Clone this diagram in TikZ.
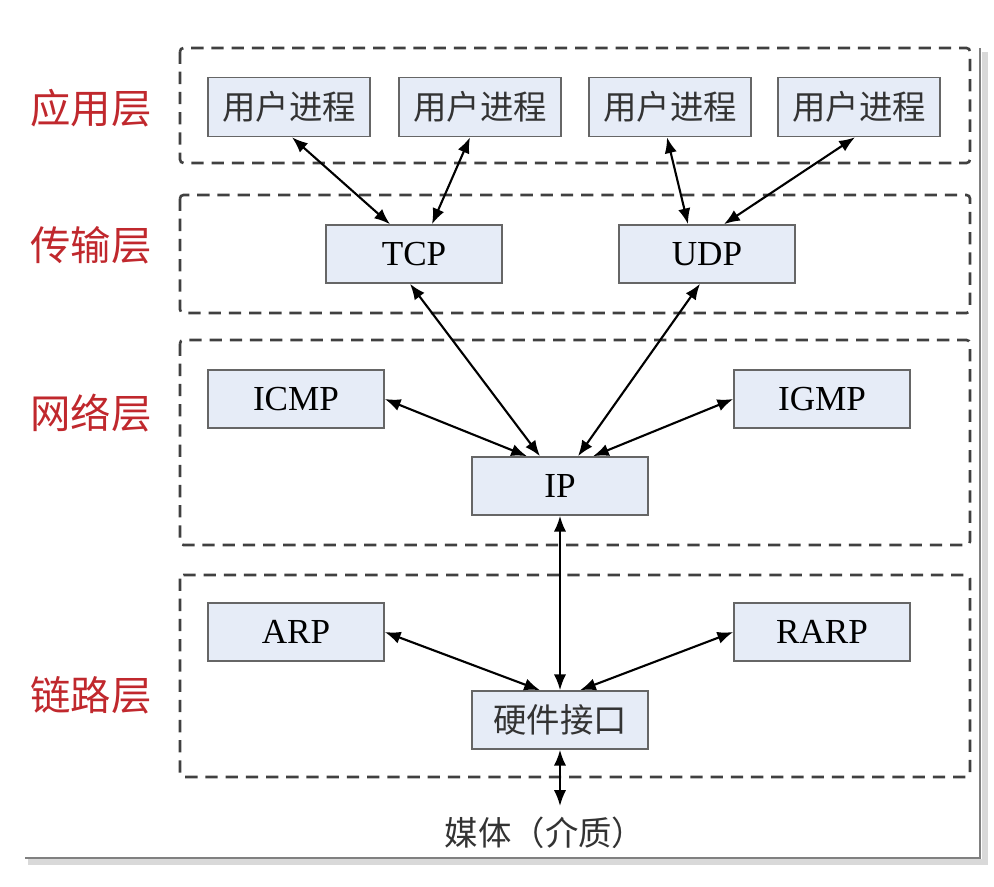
\documentclass[tikz,border=0pt]{standalone}
\usepackage{fontspec}
\setmainfont{Liberation Serif}
\newfontfamily\cjk{Noto Sans CJK SC}
\usetikzlibrary{arrows.meta}

\definecolor{boxfill}{HTML}{E6ECF7}
\definecolor{layerred}{HTML}{C0282D}

\tikzset{
  proto/.style={draw=black!60,fill=boxfill,line width=0.9pt,minimum width=3.52cm,minimum height=1.16cm,font=\fontsize{20}{24}\selectfont},
  proc/.style={proto,minimum width=3.24cm,minimum height=1.18cm,text=black!80,font=\cjk\fontsize{19}{22}\selectfont},
  layer/.style={draw=black!75,line width=1.5pt,dash pattern=on 7pt off 4.5pt,rounded corners=2pt},
  lname/.style={text=layerred,font=\cjk\fontsize{23}{27}\selectfont},
  link/.style={{Latex[length=9pt,width=7pt]}-{Latex[length=9pt,width=7pt]},line width=1.2pt}
}

\begin{document}
\begin{tikzpicture}[x=0.02cm,y=-0.02cm]
\useasboundingbox (0,0) rectangle (994,886);

% page shadow
\draw[black!15,line width=3pt] (28,862) -- (985,862) -- (985,52);
\draw[black!50,line width=1.5pt] (25,858) -- (980,858) -- (980,48);

% layers
\draw[layer] (180,48) rectangle (970,163);
\draw[layer] (180,195) rectangle (970,313);
\draw[layer] (180,340) rectangle (970,545);
\draw[layer] (180,575) rectangle (970,777);

\node[lname] (app) at (91,108) {应用层};
\node[lname] (trans) at (91,245) {传输层};
\node[lname] (net) at (91,413) {网络层};
\node[lname] (lnk) at (91,695) {链路层};

% boxes
\node[proc] (up1) at (289,107) {用户进程};
\node[proc] (up2) at (480,107) {用户进程};
\node[proc] (up3) at (670,107) {用户进程};
\node[proc] (up4) at (859,107) {用户进程};

\node[proto] (tcp) at (414,254) {TCP};
\node[proto] (udp) at (707,254) {UDP};

\node[proto] (icmp) at (296,399) {ICMP};
\node[proto] (igmp) at (822,399) {IGMP};
\node[proto] (ip) at (560,486) {IP};

\node[proto] (arp) at (296,632) {ARP};
\node[proto] (rarp) at (822,632) {RARP};
\node[proto,font=\cjk\fontsize{19}{22}\selectfont,text=black!80] (hw) at (560,720) {硬件接口};

\coordinate (media) at (560,806);
\node[text=black!80,font=\cjk\fontsize{19}{22}\selectfont] (medtext) at (545,833) {媒体（介质）};

% connections
\draw[link] ([xshift=0.06cm]up1.south) -- ([xshift=-0.48cm]tcp.north);
\draw[link] ([xshift=-0.2cm]up2.south) -- ([xshift=0.36cm]tcp.north);
\draw[link] ([xshift=-0.06cm]up3.south) -- ([xshift=-0.38cm]udp.north);
\draw[link] ([xshift=-0.08cm]up4.south) -- ([xshift=0.34cm]udp.north);

\draw[link] ([xshift=-0.08cm]tcp.south) -- ([xshift=-0.4cm]ip.north);
\draw[link] ([xshift=-0.14cm]udp.south) -- ([xshift=0.36cm]ip.north);
\draw[link] (icmp.east) -- ([xshift=-0.66cm]ip.north);
\draw[link] (igmp.west) -- ([xshift=0.66cm]ip.north);

\draw[link] (ip.south) -- (hw.north);
\draw[link] (arp.east) -- ([xshift=-0.4cm]hw.north);
\draw[link] (rarp.west) -- ([xshift=0.4cm]hw.north);
\draw[link] (hw.south) -- (media);
\end{tikzpicture}
\end{document}
